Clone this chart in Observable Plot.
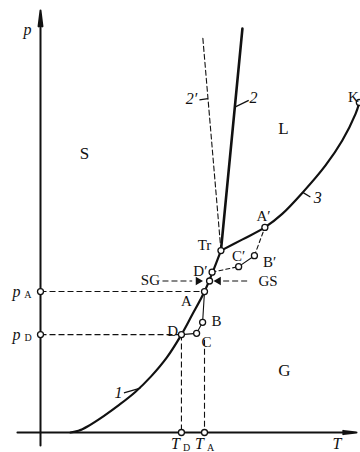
<!DOCTYPE html>
<html>
<head>
<meta charset="utf-8">
<script src="https://cdn.jsdelivr.net/npm/d3@7"></script>
<script src="https://cdn.jsdelivr.net/npm/@observablehq/plot@0.6"></script>
<style>
  html, body { margin: 0; padding: 0; background: #fff; }
</style>
</head>
<body>
<div id="chart"></div>
<script>
// ---- curve data (arbitrary units: T 0..100, p 0..100) ----
const sublimationT = [9.5, 12, 15, 20, 25, 30, 35, 40, 44.6, 48, 51.9, 57.1];
const sublimationP = [0, 0.4, 1.5, 3.9, 6.6, 9.6, 13.3, 17.8, 23.2, 27.9, 33.4, 43.1];
const fusionT = [57.1, 63.9];
const fusionP = [43.1, 95.7];
const metaFusionT = [57.1, 51.3];
const metaFusionP = [43.1, 94.1];
const vaporT = [57.1, 63.8, 71.0, 76.5, 83.0, 90.2, 95.5, 99.7, 100.9];
const vaporP = [43.1, 45.7, 48.6, 51.8, 56.9, 63.3, 69.2, 75.5, 78.2];

// key points: Tr, A, B, C, D, A', B', C', D', SG/GS point, K, pA, pD, TD, TA
const keyT = [57.1, 51.9, 51.3, 49.4, 44.6, 71.0, 67.7, 62.7, 54.3, 53.5, 100.9, 0, 0, 44.6, 51.9];
const keyP = [43.1, 33.4, 26.1, 23.5, 23.2, 48.6, 41.9, 39.3, 38.0, 35.9, 78.2, 33.4, 23.2, 0, 0];

// process paths
const pathABCD_T = [51.9, 51.3, 49.4, 44.6];
const pathABCD_P = [33.4, 26.1, 23.5, 23.2];
const dashDC_T = [54.3, 62.7]; const dashDC_P = [38.0, 39.3];
const solidCB_T = [62.7, 67.7]; const solidCB_P = [39.3, 41.9];
const dashBA_T = [67.7, 71.0]; const dashBA_P = [41.9, 48.6];

// guide lines [T1, p1, T2, p2]
const guides = [
  [0, 33.4, 51.9, 33.4],
  [0, 23.2, 44.6, 23.2],
  [44.6, 23.2, 44.6, 0],
  [51.9, 22.0, 51.9, 0],
  [38.6, 35.9, 48.0, 35.9],
  [57.8, 35.9, 66.1, 35.9]
];
// arrowheads: T, p, direction
const headT = [49.9, 56.3];
const headP = [35.9, 35.9];
const headRot = [90, -90];

// label leader ticks [T1,p1,T2,p2]
const leaders = [
  [26.4, 9.4, 31.6, 10.5],
  [61.5, 77.1, 65.9, 78.7],
  [50.3, 78.8, 53.0, 79.1],
  [83.0, 56.9, 85.4, 55.8]
];

// texts
const regionLabels = ["S", "L", "G"];
const regionT = [13.9, 76.9, 77.2];
const regionP = [66.1, 72.0, 14.7];

const pointLabels = ["K", "Tr", "D′", "C′", "B′", "A′", "A", "B", "C", "D", "SG", "GS"];
const pointLabelT = [99.0, 51.9, 50.6, 62.7, 72.5, 70.6, 46.2, 55.7, 52.5, 41.8, 34.8, 72.0];
const pointLabelP = [79.4, 44.3, 38.2, 41.7, 40.3, 51.2, 31.0, 26.3, 21.3, 23.9, 36.0, 35.8];

const italicLabels = ["p", "T", "p", "p", "T", "T", "1", "2", "2′", "3"];
const italicT = [-4.1, 93.8, -7.6, -7.6, 42.7, 50.3, 24.7, 67.4, 47.8, 87.7];
const italicP = [95.3, -2.8, 33.4, 23.2, -2.8, -2.8, 9.5, 79.4, 79.1, 55.5];

const subLabels = ["A", "D", "D", "A"];
const subT = [-4.0, -3.9, 46.2, 53.8];
const subP = [32.6, 22.4, -3.6, -3.6];

// ---- build tables ----
const zipTP = (T, P) => T.map((t, i) => ({T: t, p: P[i]}));
const sub = zipTP(sublimationT, sublimationP);
const fus = zipTP(fusionT, fusionP);
const meta = zipTP(metaFusionT, metaFusionP);
const vap = zipTP(vaporT, vaporP);
const keys = zipTP(keyT, keyP);
const guideRows = guides.map(([a, b, c, d]) => ({x1: a, y1: b, x2: c, y2: d}));
const leaderRows = leaders.map(([a, b, c, d]) => ({x1: a, y1: b, x2: c, y2: d}));
const heads = headT.map((t, i) => ({T: t, p: headP[i], r: headRot[i]}));
const regions = regionLabels.map((s, i) => ({s, T: regionT[i], p: regionP[i]}));
const plabels = pointLabels.map((s, i) => ({s, T: pointLabelT[i], p: pointLabelP[i]}));
const ilabels = italicLabels.map((s, i) => ({s, T: italicT[i], p: italicP[i]}));
const slabels = subLabels.map((s, i) => ({s, T: subT[i], p: subP[i]}));

const chart = Plot.plot({
  width: 360,
  height: 452,
  margin: 0,
  x: {domain: [0, 100], range: [40, 356], axis: null},
  y: {domain: [0, 100], range: [432, 10], axis: null},
  style: {fontFamily: "'Liberation Serif', 'DejaVu Serif', serif", background: "#fff", color: "#111"},
  marks: [
    // axes
    Plot.arrow([{x1: 0, y1: -3.1, x2: 0, y2: 100}], {x1: "x1", y1: "y1", x2: "x2", y2: "y2", stroke: "#111", strokeWidth: 2, headLength: 12, headAngle: 14}),
    Plot.arrow([{x1: -7.3, y1: 0, x2: 100, y2: 0}], {x1: "x1", y1: "y1", x2: "x2", y2: "y2", stroke: "#111", strokeWidth: 2, headLength: 10, headAngle: 14}),
    // guides
    Plot.link(guideRows, {x1: "x1", y1: "y1", x2: "x2", y2: "y2", stroke: "#111", strokeWidth: 1.1, strokeDasharray: "6,3"}),
    // metastable fusion 2'
    Plot.line(meta, {x: "T", y: "p", stroke: "#111", strokeWidth: 1.1, strokeDasharray: "5,3"}),
    // process paths
    Plot.line(zipTP(pathABCD_T, pathABCD_P), {x: "T", y: "p", stroke: "#111", strokeWidth: 1.1}),
    Plot.line(zipTP(dashDC_T, dashDC_P), {x: "T", y: "p", stroke: "#111", strokeWidth: 1.1, strokeDasharray: "4,3"}),
    Plot.line(zipTP(solidCB_T, solidCB_P), {x: "T", y: "p", stroke: "#111", strokeWidth: 1.1}),
    Plot.line(zipTP(dashBA_T, dashBA_P), {x: "T", y: "p", stroke: "#111", strokeWidth: 1.1, strokeDasharray: "4,3"}),
    // main curves
    Plot.line(sub, {x: "T", y: "p", curve: "catmull-rom", stroke: "#111", strokeWidth: 2.2}),
    Plot.line(fus, {x: "T", y: "p", stroke: "#111", strokeWidth: 2.6}),
    Plot.line(vap, {x: "T", y: "p", curve: "catmull-rom", stroke: "#111", strokeWidth: 2.2}),
    // leader ticks
    Plot.link(leaderRows, {x1: "x1", y1: "y1", x2: "x2", y2: "y2", stroke: "#111", strokeWidth: 1.2}),
    // arrowheads
    Plot.dot(heads, {x: "T", y: "p", symbol: "triangle2", r: 4, rotate: "r", fill: "#111", stroke: "none"}),
    // key points
    Plot.dot(keys, {x: "T", y: "p", r: 3, fill: "#fff", stroke: "#111", strokeWidth: 1.3}),
    // texts
    Plot.text(regions, {x: "T", y: "p", text: "s", fontSize: 17, fill: "#111"}),
    Plot.text(plabels, {x: "T", y: "p", text: "s", fontSize: 15, fill: "#111"}),
    Plot.text(ilabels, {x: "T", y: "p", text: "s", fontSize: 16, fontStyle: "italic", fill: "#111"}),
    Plot.text(slabels, {x: "T", y: "p", text: "s", fontSize: 10, fill: "#111"})
  ]
});
document.getElementById("chart").appendChild(chart);
</script>
</body>
</html>
